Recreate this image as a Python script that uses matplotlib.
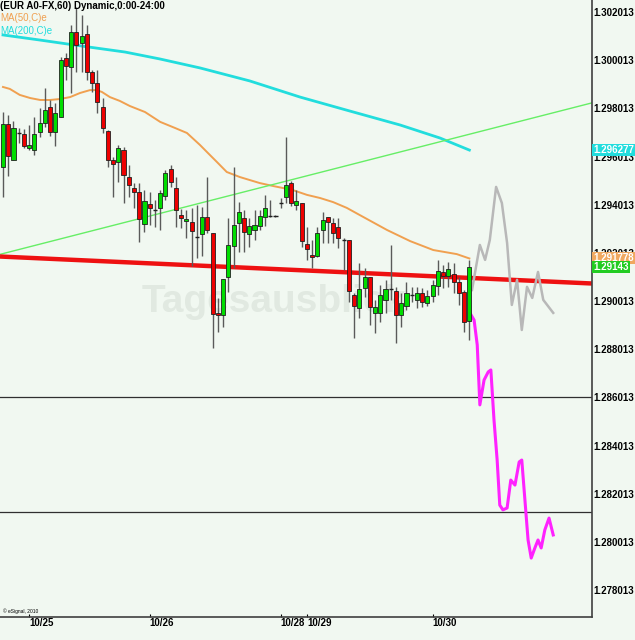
import matplotlib
matplotlib.use("Agg")
import matplotlib.pyplot as plt
import numpy as np

# ---------------- data ----------------
opens = [1.29558, 1.29736, 1.29587, 1.29699, 1.29695, 1.29637, 1.29628, 1.29703, 1.29740, 1.29807,
         1.29703, 1.29765, 1.30010, 1.29973, 1.30118, 1.30073, 1.30110, 1.29952, 1.29906, 1.29807,
         1.29707, 1.29587, 1.29579, 1.29628, 1.29516, 1.29471, 1.29454, 1.29321, 1.29404, 1.29379,
         1.29388, 1.29437, 1.29549, 1.29471, 1.29358, 1.29334, 1.29329, 1.29267, 1.29280, 1.29350,
         1.29284, 1.28952, 1.28943, 1.29101, 1.29230, 1.29325, 1.29346, 1.29280, 1.29296, 1.29313,
         1.29350, 1.29354, 1.29354, 1.29408, 1.29433, 1.29491, 1.29400, 1.29408, 1.29238, 1.29192,
         1.29188, 1.29296, 1.29350, 1.29325, 1.29309, 1.29255, 1.29255, 1.29026, 1.28972, 1.29055,
         1.29101, 1.28952, 1.28952, 1.29006, 1.29051, 1.29043, 1.28943, 1.28981, 1.29026, 1.29006,
         1.29035, 1.28993, 1.29022, 1.29064, 1.29122, 1.29105, 1.29114, 1.29080, 1.29039, 1.28918]
highs = [1.29786, 1.29774, 1.29749, 1.29720, 1.29716, 1.29732, 1.29765, 1.29803, 1.29886, 1.29836,
         1.29823, 1.30014, 1.30031, 1.30147, 1.30222, 1.30189, 1.30147, 1.29960, 1.29960, 1.29844,
         1.29711, 1.29599, 1.29649, 1.29641, 1.29566, 1.29491, 1.29491, 1.29462, 1.29454, 1.29421,
         1.29462, 1.29545, 1.29566, 1.29516, 1.29383, 1.29379, 1.29388, 1.29400, 1.29392, 1.29516,
         1.29284, 1.29014, 1.29093, 1.29346, 1.29558, 1.29412, 1.29379, 1.29346, 1.29379, 1.29379,
         1.29442, 1.29421, 1.29358, 1.29429, 1.29682, 1.29500, 1.29462, 1.29408, 1.29309, 1.29255,
         1.29309, 1.29371, 1.29350, 1.29346, 1.29346, 1.29263, 1.29255, 1.29035, 1.29159, 1.29138,
         1.29101, 1.29006, 1.29068, 1.29089, 1.29234, 1.29060, 1.29035, 1.29080, 1.29060, 1.29060,
         1.29055, 1.29047, 1.29089, 1.29172, 1.29151, 1.29163, 1.29159, 1.29101, 1.29047, 1.29172]
lows = [1.29433, 1.29520, 1.29587, 1.29657, 1.29637, 1.29628, 1.29608, 1.29682, 1.29724, 1.29686,
        1.29645, 1.29765, 1.29919, 1.29865, 1.29952, 1.29952, 1.29919, 1.29869, 1.29782, 1.29699,
        1.29558, 1.29433, 1.29495, 1.29408, 1.29433, 1.29388, 1.29246, 1.29288, 1.29317, 1.29309,
        1.29296, 1.29421, 1.29475, 1.29309, 1.29304, 1.29263, 1.29147, 1.29180, 1.29188, 1.29284,
        1.28806, 1.28873, 1.28893, 1.29039, 1.29138, 1.29205, 1.29205, 1.29226, 1.29255, 1.29296,
        1.29313, 1.29350, 1.29350, 1.29388, 1.29408, 1.29396, 1.29379, 1.29226, 1.29172, 1.29138,
        1.29184, 1.29242, 1.29242, 1.29242, 1.29221, 1.29130, 1.28997, 1.28848, 1.28931, 1.29018,
        1.28902, 1.28868, 1.28914, 1.28952, 1.29006, 1.28827, 1.28893, 1.28964, 1.28997, 1.28972,
        1.28976, 1.28981, 1.28997, 1.29026, 1.29055, 1.29060, 1.29035, 1.28985, 1.28873, 1.28839]
closes = [1.29736, 1.29603, 1.29720, 1.29699, 1.29645, 1.29649, 1.29695, 1.29740, 1.29794, 1.29703,
          1.29782, 1.30002, 1.29977, 1.30118, 1.30064, 1.30102, 1.29952, 1.29906, 1.29828, 1.29720,
          1.29587, 1.29570, 1.29637, 1.29524, 1.29483, 1.29454, 1.29342, 1.29416, 1.29388, 1.29379,
          1.29450, 1.29533, 1.29495, 1.29379, 1.29346, 1.29342, 1.29292, 1.29267, 1.29350, 1.29296,
          1.28947, 1.28943, 1.29093, 1.29234, 1.29317, 1.29371, 1.29288, 1.29313, 1.29317, 1.29354,
          1.29388, 1.29354, 1.29354, 1.29408, 1.29483, 1.29408, 1.29416, 1.29250, 1.29217, 1.29184,
          1.29284, 1.29338, 1.29329, 1.29284, 1.29263, 1.29255, 1.29043, 1.28981, 1.29051, 1.29101,
          1.28976, 1.28976, 1.29026, 1.29051, 1.29051, 1.28943, 1.28993, 1.29035, 1.29026, 1.29035,
          1.28997, 1.29022, 1.29068, 1.29126, 1.29105, 1.29134, 1.29080, 1.29035, 1.28914, 1.29143]

ma50_x = [0, 1.3, 3.2, 5.2, 7.1, 9.0, 10.9, 12.8, 14.7, 16.6, 17.9, 18.9, 20.4, 22.3, 24.2, 27.1,
          30.0, 32.8, 35.1, 37.6, 39.1, 40.8, 42.7, 45.2, 49.0, 51.5, 55.3, 58.0, 60.5, 63.0, 65.6,
          68.1, 73.3, 77.7, 82.1, 86.6, 89.0]
ma50_y = [1.29890, 1.29882, 1.29857, 1.29844, 1.29836, 1.29836, 1.29840, 1.29848, 1.29865, 1.29877,
          1.29877, 1.29869, 1.29848, 1.29832, 1.29811, 1.29786, 1.29745, 1.29720, 1.29699, 1.29649,
          1.29616, 1.29579, 1.29537, 1.29516, 1.29491, 1.29479, 1.29462, 1.29442, 1.29429, 1.29412,
          1.29388, 1.29358, 1.29296, 1.29250, 1.29213, 1.29196, 1.29178]

ma200_x = [0, 7, 15, 23.3, 30, 37.6, 47.1, 56.7, 66.2, 75.8, 83.4, 89]
ma200_y = [1.30106, 1.30085, 1.30060, 1.30035, 1.30006, 1.29969, 1.29915, 1.29848, 1.29790,
           1.29732, 1.29678, 1.29628]

gray_x = [89.5, 91.0, 92.0, 92.9, 94.1, 95.2, 96.2, 97.1, 98.1, 99.0, 100.0, 101.0, 102.1, 103.1, 105.0]
gray_y = [1.29047, 1.29234, 1.29172, 1.29255, 1.29475, 1.29408, 1.29242, 1.28985, 1.29089, 1.28881,
          1.29060, 1.29014, 1.29122, 1.29006, 1.28952]

mag_x = [89.1, 89.9, 90.5, 91.0, 91.8, 92.6, 93.1, 93.7, 94.3, 94.8, 95.4, 96.2, 96.9, 97.7, 98.5,
         99.0, 99.6, 100.2, 100.8, 101.5, 102.1, 102.7, 103.4, 104.2, 105.0]
mag_y = [1.28952, 1.28922, 1.28819, 1.28570, 1.28673, 1.28707, 1.28715, 1.28507, 1.28341, 1.28154,
         1.28134, 1.28142, 1.28258, 1.28237, 1.28333, 1.28341, 1.28175, 1.28009, 1.27934, 1.27976,
         1.28009, 1.27976, 1.28051, 1.28100, 1.28030]

support_x = [-0.57, 112.4]
support_y = [1.29186, 1.29074]
trend_x = [-0.57, 112.4]
trend_y = [1.29195, 1.29824]
hlines = [1.28603, 1.28125]

date_pos = [5, 28, 53, 58, 82]
date_labels = ["10/25", "10/26", "10/28", "10/29", "10/30"]
price_ticks = [1.278013, 1.280013, 1.282013, 1.284013, 1.286013, 1.288013,
               1.290013, 1.292013, 1.294013, 1.296013, 1.298013, 1.300013, 1.302013]

# ---------------- style ----------------
BG = "#f1f8f1"
FONT = ["Liberation Sans", "DejaVu Sans"]
plt.rcParams["font.family"] = FONT

fig = plt.figure(figsize=(6.35, 6.4), dpi=100, facecolor=BG)
W, H = 635, 640
ax = fig.add_axes([0, 23 / H, 592 / W, 617 / H], facecolor=BG)
ax.set_xlim(-0.57, 112.4)
ax.set_ylim(1.276893, 1.302511)

# watermark
ax.text(0.240, 0.494, "Tagesausblick", transform=ax.transAxes, fontsize=28,
        fontweight="bold", color="#e1e9e1", ha="left", va="baseline", zorder=0)

# horizontal lines
for h in hlines:
    ax.axhline(h, color="#303030", lw=0.9, zorder=1)

# MA lines
ax.plot(ma200_x, ma200_y, color="#22dddd", lw=2.0, zorder=2)
ax.plot(ma50_x, ma50_y, color="#f0a050", lw=1.4, zorder=2)
ax.plot(trend_x, trend_y, color="#66ee66", lw=1.0, zorder=2)
ax.plot(support_x, support_y, color="#ee1111", lw=3.2, zorder=2, solid_capstyle="butt")

# candles
idx = np.arange(len(opens))
o = np.array(opens); c = np.array(closes); hi = np.array(highs); lo = np.array(lows)
ax.vlines(idx, lo, hi, color="#5a5a5a", lw=1.0, zorder=3)
up = c > o
down = c < o
flat = c == o
bw = 0.78
ax.bar(idx[up], (c - o)[up], bottom=o[up], width=bw, color="#00dd00",
       edgecolor="#202020", lw=0.6, zorder=4)
ax.bar(idx[down], (o - c)[down], bottom=c[down], width=bw, color="#ee0000",
       edgecolor="#202020", lw=0.6, zorder=4)
ax.hlines(o[flat], idx[flat] - bw / 2, idx[flat] + bw / 2, color="#202020", lw=1.0, zorder=4)

# projections
ax.plot(gray_x, gray_y, color="#b8b8b8", lw=1.8, zorder=3)
ax.plot(mag_x, mag_y, color="#ff22ff", lw=2.2, zorder=3)

# axes styling
for s in ["top", "left"]:
    ax.spines[s].set_visible(False)
for s in ["right", "bottom"]:
    ax.spines[s].set_color("#404040")
    ax.spines[s].set_linewidth(1.2)
ax.yaxis.tick_right()
ax.set_yticks(price_ticks)
ax.set_yticklabels([f"{v:.6f}" for v in price_ticks], fontsize=7, fontweight="bold")
ax.tick_params(axis="y", length=0, pad=1)
ax.set_xticks(date_pos)
ax.set_xticklabels(date_labels, fontsize=7, fontweight="bold", ha="left")
ax.tick_params(axis="x", length=2, pad=1, direction="in")

# last value boxes
def tag(y, txt, col):
    ax.annotate(txt, xy=(1.0, y), xycoords=("axes fraction", "data"), xytext=(1, 0),
                textcoords="offset points", fontsize=7, fontweight="bold", color="white",
                ha="left", va="center", annotation_clip=False,
                bbox=dict(boxstyle="square,pad=0.1", fc=col, ec="none"), zorder=10)

tag(ma200_y[-1], "1.296277", "#22dddd")
tag(ma50_y[-1], "1.291778", "#f0a860")
tag(closes[-1], "1.29143", "#22cc22")

# header texts
fig.text(0.0, 1 - 6 / H, "(EUR A0-FX,60) Dynamic,0:00-24:00", fontsize=7, fontweight="bold",
         color="black", ha="left", va="center")
fig.text(0.0, 1 - 18 / H, "MA(50,C)e", fontsize=7, color="#f0a050", ha="left", va="center")
fig.text(0.0, 1 - 31 / H, "MA(200,C)e", fontsize=7, color="#22dddd", ha="left", va="center")
fig.text(3 / W, 1 - 611 / H, "\u00a9 eSignal, 2010", fontsize=3.5, color="black",
         ha="left", va="center")

fig.savefig("out.png", dpi=100, facecolor=BG)
